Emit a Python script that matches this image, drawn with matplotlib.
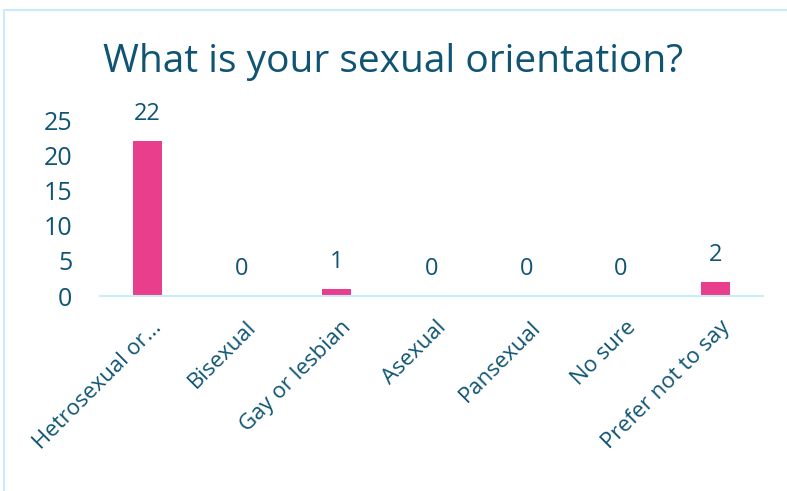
import matplotlib.pyplot as plt
from matplotlib.lines import Line2D
from matplotlib.transforms import ScaledTranslation

categories = ["Hetrosexual or...", "Bisexual", "Gay or lesbian", "Asexual",
              "Pansexual", "No sure", "Prefer not to say"]
counts = [22, 0, 1, 0, 0, 0, 2]
y_ticks = [0, 5, 10, 15, 20, 25]

text_color = "#0f5573"
bar_color = "#e83e8c"
axis_color = "#c9ecfb"

plt.rcParams["font.family"] = ["Open Sans", "DejaVu Sans"]

fig = plt.figure(figsize=(7.87, 4.91), dpi=100)
ax = fig.add_axes([100 / 787, 1 - 296 / 491, 663 / 787, 176 / 491])

x = range(len(categories))
ax.bar(x, counts, width=0.31, color=bar_color, zorder=2)

for xi, v in zip(x, counts):
    ax.annotate(str(v), (xi, v), xytext=(0, 11), textcoords="offset points",
                ha="center", va="bottom", fontsize=17, color=text_color)

ax.set_xlim(-0.5, len(categories) - 0.5)
ax.set_ylim(0, 25)
ax.set_yticks(y_ticks)
ax.set_yticklabels([str(t) for t in y_ticks], fontsize=18, color=text_color)
ax.set_xticks(list(x))
ax.set_xticklabels(categories, rotation=45, ha="right", rotation_mode="anchor",
                   fontsize=16, color=text_color)
ax.tick_params(axis="both", length=0)
ax.tick_params(axis="y", pad=20)
ax.tick_params(axis="x", pad=15)

shift = ScaledTranslation(4 / 100, 0, fig.dpi_scale_trans)
for lbl in ax.get_xticklabels():
    lbl.set_transform(lbl.get_transform() + shift)

for side in ["top", "right", "left"]:
    ax.spines[side].set_visible(False)
ax.spines["bottom"].set_color(axis_color)
ax.spines["bottom"].set_linewidth(1.5)

fig.text(0.5, 1 - 62 / 491, "What is your sexual orientation?", ha="center",
         va="center", fontsize=28, color=text_color)

# light frame around the chart area
fig.add_artist(Line2D([4 / 787, 4 / 787], [0, 1 - 10 / 491],
                      transform=fig.transFigure, color=axis_color, lw=1.5))
fig.add_artist(Line2D([4 / 787, 1], [1 - 10 / 491, 1 - 10 / 491],
                      transform=fig.transFigure, color=axis_color, lw=1.5))

fig.savefig("out.png", dpi=100)
